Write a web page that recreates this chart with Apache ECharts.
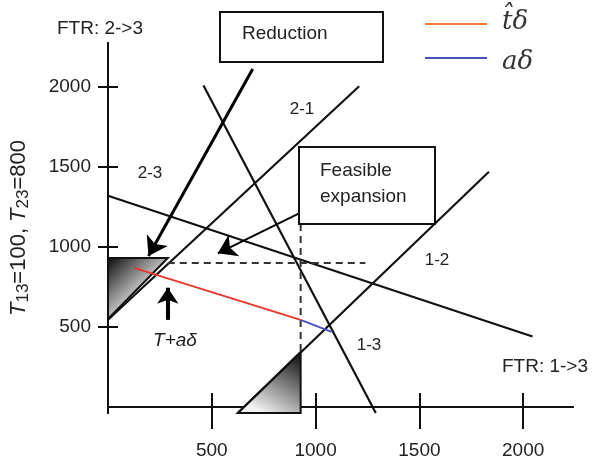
<!DOCTYPE html>
<html lang="en">
<head>
<meta charset="UTF-8"/>
<title>FTR feasible expansion</title>
<script src="https://cdn.jsdelivr.net/npm/echarts@6/dist/echarts.min.js"></script>
</head>
<body style="margin:0">
<div id="main" style="width:596px;height:463px;"></div>
<script type="text/javascript">
// tick values on both axes
var xTicks = [500, 1000, 1500, 2000];
var yTicks = [500, 1000, 1500, 2000];

// constraint lines, [x, y] end points
var line13steep = [[460, 2010], [1290, -38]];
var line21 = [[0, 545], [1210, 2005]];
var line12 = [[0, 1320], [2045, 440]];
var line13 = [[625, -38], [1835, 1470]];

// dashed guide lines
var dashH = [[288, 900], [1240, 900]];
var dashV = [[928, 1144], [928, 344]];

// t-hat delta and a delta segments
var tDelta = [[125, 869], [928, 544]];
var aDelta = [[928, 544], [1077, 469]];

// shaded corners
var triUpper = [[0, 931], [288, 931], [0, 550]];
var triLower = [[625, -38], [928, -38], [928, 344]];

// arrows (from, to)
var arrowReduction = [[697, 2112], [195, 944]];
var arrowFeasible = [[923, 1212], [529, 960]];
var arrowUp = [[288, 544], [288, 745]];

var myChart = echarts.init(document.getElementById('main'));

function seg(data, color, width, type) {
    return {
        type: 'line', data: data, symbol: 'none', silent: true,
        lineStyle: {color: color, width: width, type: type || 'solid'}, z: 5
    };
}

function tri(points, gradient) {
    return {
        type: 'custom', data: [[0, 0]], silent: true, z: 3,
        renderItem: function (params, api) {
            return {
                type: 'polygon',
                shape: {points: points.map(function (p) { return api.coord(p); })},
                style: {fill: gradient, stroke: '#111', lineWidth: 2}
            };
        }
    };
}

function arrow(data, width, size) {
    return {
        type: 'lines', coordinateSystem: 'cartesian2d', silent: true, z: 6,
        symbol: ['none', 'arrow'], symbolSize: size,
        lineStyle: {color: '#000', width: width, opacity: 1},
        data: [{coords: data}]
    };
}

function plain(v) { return String(v); }

var axisCommon = {
    type: 'value', splitLine: {show: false},
    axisLine: {show: true, lineStyle: {color: '#111', width: 2}}
};

var font = 'Liberation Sans, Arial, sans-serif';

var option = {
    animation: false,
    grid: {left: 107, right: 23, top: 43, bottom: 50},
    xAxis: [
        Object.assign({}, axisCommon, {
            min: 0, max: 2240, position: 'bottom',
            axisTick: {show: true, inside: false, length: 22, customValues: xTicks,
                lineStyle: {color: '#111', width: 2}},
            axisLabel: {customValues: xTicks, formatter: plain, margin: 28, fontSize: 19, color: '#222', fontFamily: font}
        }),
        Object.assign({}, axisCommon, {
            min: 0, max: 2240, position: 'bottom',
            axisTick: {show: true, inside: true, length: 14, customValues: xTicks,
                lineStyle: {color: '#111', width: 2}},
            axisLabel: {show: false}
        })
    ],
    yAxis: [
        Object.assign({}, axisCommon, {
            min: -38, max: 2275, position: 'left',
            axisTick: {show: true, inside: false, length: 10, customValues: yTicks,
                lineStyle: {color: '#111', width: 2}},
            axisLabel: {customValues: yTicks, formatter: plain, margin: 17, fontSize: 19, color: '#222', fontFamily: font},
            name: '{i|T}{s|13}{n|=100, }{i|T}{s|23}{n|=800}',
            nameLocation: 'middle', nameRotate: 90, nameGap: 76,
            nameTextStyle: {
                rich: {
                    i: {fontSize: 22, fontStyle: 'italic', fontFamily: font, color: '#222'},
                    s: {fontSize: 17, fontFamily: font, color: '#222', padding: [9, 0, 0, 0]},
                    n: {fontSize: 22, fontFamily: font, color: '#222'}
                }
            }
        }),
        Object.assign({}, axisCommon, {
            min: -38, max: 2275, position: 'left',
            axisTick: {show: true, inside: true, length: 10, customValues: yTicks,
                lineStyle: {color: '#111', width: 2}},
            axisLabel: {show: false}
        })
    ],
    graphic: [
        {type: 'text', x: 100, y: 29, style: {text: 'FTR: 2->3', font: '19px ' + font, fill: '#222', textAlign: 'center', textVerticalAlign: 'middle'}},
        {type: 'text', x: 545, y: 367, style: {text: 'FTR: 1->3', font: '19px ' + font, fill: '#222', textAlign: 'center', textVerticalAlign: 'middle'}},
        {type: 'rect', shape: {x: 220, y: 12, width: 163, height: 50}, style: {fill: '#fff', stroke: '#111', lineWidth: 2}, z: 10},
        {type: 'text', x: 242, y: 34, z: 11, style: {text: 'Reduction', font: '19px ' + font, fill: '#222', textVerticalAlign: 'middle'}},
        {type: 'rect', shape: {x: 299, y: 147, width: 136, height: 77}, style: {fill: '#fff', stroke: '#111', lineWidth: 2}, z: 10},
        {type: 'text', x: 320, y: 171, z: 11, style: {text: 'Feasible', font: '19px ' + font, fill: '#222', textVerticalAlign: 'middle'}},
        {type: 'text', x: 320, y: 197, z: 11, style: {text: 'expansion', font: '19px ' + font, fill: '#222', textVerticalAlign: 'middle'}},
        {type: 'text', x: 150, y: 173, style: {text: '2-3', font: '17px ' + font, fill: '#222', textAlign: 'center', textVerticalAlign: 'middle'}},
        {type: 'text', x: 302, y: 109, style: {text: '2-1', font: '17px ' + font, fill: '#222', textAlign: 'center', textVerticalAlign: 'middle'}},
        {type: 'text', x: 437, y: 260, style: {text: '1-2', font: '17px ' + font, fill: '#222', textAlign: 'center', textVerticalAlign: 'middle'}},
        {type: 'text', x: 369, y: 345, style: {text: '1-3', font: '17px ' + font, fill: '#222', textAlign: 'center', textVerticalAlign: 'middle'}},
        {type: 'text', x: 175, y: 341, style: {text: 'T+a\u03b4', font: 'italic 19px ' + font, fill: '#222', textAlign: 'center', textVerticalAlign: 'middle'}},
        {type: 'line', shape: {x1: 425, y1: 24, x2: 487, y2: 24}, style: {stroke: '#f07a3c', lineWidth: 2}},
        {type: 'line', shape: {x1: 425, y1: 58, x2: 487, y2: 58}, style: {stroke: '#4a52c2', lineWidth: 2}},
        {type: 'text', x: 502, y: 22, style: {text: 't\u0302\u03b4', font: 'italic 26px DejaVu Serif, serif', fill: '#333', textVerticalAlign: 'middle'}},
        {type: 'text', x: 502, y: 62, style: {text: 'a\u03b4', font: 'italic 26px DejaVu Serif, serif', fill: '#333', textVerticalAlign: 'middle'}}
    ],
    series: [
        tri(triUpper, {type: 'linear', x: 0, y: 0, x2: 1, y2: 1,
            colorStops: [{offset: 0, color: '#050505'}, {offset: 0.55, color: '#d0d0d0'}, {offset: 1, color: '#ffffff'}]}),
        tri(triLower, {type: 'linear', x: 1, y: 0, x2: 0.4, y2: 1,
            colorStops: [{offset: 0, color: '#050505'}, {offset: 1, color: '#f4f4f4'}]}),
        seg(line13steep, '#111', 2.2),
        seg(line21, '#111', 2.2),
        seg(line12, '#111', 2.2),
        seg(line13, '#111', 2.2),
        seg(dashH, '#333', 2, [7, 5]),
        seg(dashV, '#333', 2, [7, 5]),
        seg(tDelta, '#e8382c', 2),
        seg(aDelta, '#4a52c2', 2),
        arrow(arrowReduction, 3, [16, 18]),
        arrow(arrowFeasible, 2, [16, 18]),
        arrow(arrowUp, 4, [13, 16])
    ]
};

myChart.setOption(option);
</script>
</body>
</html>
